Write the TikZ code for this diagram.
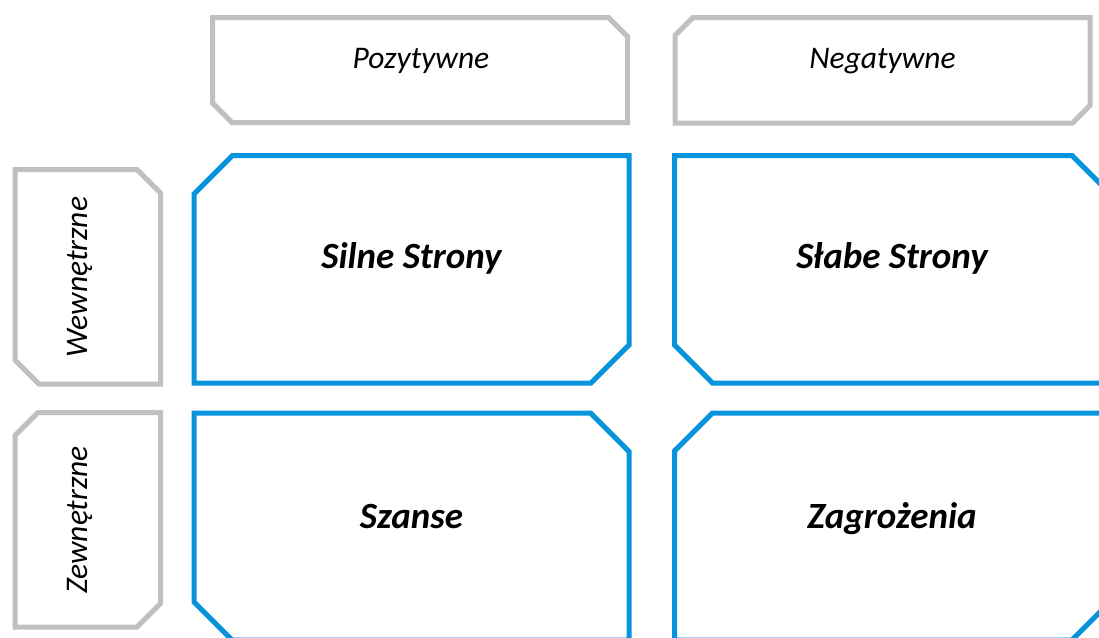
\documentclass[tikz,border=0pt]{standalone}
\usepackage{fontspec}
\setmainfont{Carlito}
\definecolor{framegray}{RGB}{192,192,192}
\definecolor{frameblue}{RGB}{8,148,220}
\tikzset{
  graybox/.style={draw=framegray, line width=5pt, line join=miter},
  bluebox/.style={draw=frameblue, line width=5pt, line join=miter},
  headtext/.style={font=\fontsize{31.5}{33}\selectfont\itshape, anchor=base, inner sep=0pt},
  maintext/.style={font=\fontsize{37}{39}\selectfont\bfseries\itshape, anchor=base, inner sep=0pt}
}
\begin{document}
\begin{tikzpicture}[x=1pt,y=-1pt]
\useasboundingbox (0,0) rectangle (1099,637);
\fill[white] (0,0) rectangle (1099,637);
\begin{scope}
\clip (0,0) rectangle (1099,637);
% header boxes
\draw[graybox] (212.5,17.5) -- (608.5,17.5) -- (627.5,36.5) -- (627.5,122.5) -- (232,122.5) -- (212.5,103) -- cycle;
\draw[graybox] (693,17.5) -- (1090,17.5) -- (1090,105.5) -- (1072.5,123) -- (675,123) -- (675,35.5) -- cycle;
% side boxes
\draw[graybox] (15,169.5) -- (137,169.5) -- (160.5,193) -- (160.5,384) -- (39,384) -- (15,360) -- cycle;
\draw[graybox] (38,412.5) -- (160.5,412.5) -- (160.5,603.5) -- (137,627) -- (15,627) -- (15,435.5) -- cycle;
% main boxes
\draw[bluebox] (232.5,155.5) -- (629,155.5) -- (629,345) -- (591,383) -- (194,383) -- (194,194) -- cycle;
\draw[bluebox] (674.5,155.5) -- (1072,155.5) -- (1110,193.5) -- (1110,383) -- (712.5,383) -- (674.5,345) -- cycle;
\draw[bluebox] (194,413) -- (590.5,413) -- (629,451.5) -- (629,640) -- (232,640) -- (194,602) -- cycle;
\draw[bluebox] (712.5,413) -- (1110,413) -- (1110,602) -- (1072,640) -- (674.5,640) -- (674.5,451) -- cycle;
\end{scope}
% texts
\node[headtext] (poz) at (421,68.3) {Pozytywne};
\node[headtext] (neg) at (882.5,68.3) {Negatywne};
\node[headtext, rotate=90] (wew) at (87,277) {Wewnętrzne};
\node[headtext, rotate=90] (zew) at (87,520) {Zewnętrzne};
\node[maintext] (s) at (411.5,268.3) {Silne Strony};
\node[maintext] (w) at (892,268.3) {Słabe Strony};
\node[maintext] (o) at (411.5,528) {Szanse};
\node[maintext] (t) at (892,528) {Zagrożenia};
\end{tikzpicture}
\end{document}
